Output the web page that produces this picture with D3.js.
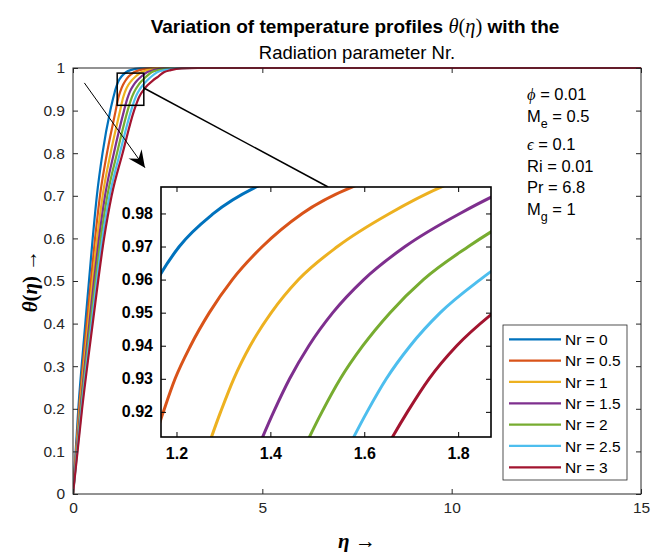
<!DOCTYPE html>
<html><head><meta charset="utf-8">
<script src="https://cdn.jsdelivr.net/npm/d3@7"></script>
<style>body{margin:0;background:#fff} svg{display:block}</style>
</head><body>
<svg id="c" width="651" height="552"></svg>
<script>
// ---------------- data ----------------
const nrLabels = ["Nr = 0","Nr = 0.5","Nr = 1","Nr = 1.5","Nr = 2","Nr = 2.5","Nr = 3"];
const colors = ["#0072BD","#D95319","#EDB120","#7E2F8E","#77AC30","#4DBEEE","#A2142F"];
// theta levels at which the eta position of each curve was read
const thetaLevels = [0, 0.2, 0.4, 0.6, 0.7, 0.8, 0.9, 0.92, 0.93, 0.94, 0.95, 0.96, 0.97, 0.98, 0.99, 0.995, 0.999, 1];
const etaNr0  = [0, 0.14, 0.325, 0.52, 0.63, 0.78, 0.985, 1.036, 1.063, 1.092, 1.122, 1.159, 1.206, 1.279, 1.40, 1.52, 1.78, 2.2];
const etaNr05 = [0, 0.16, 0.364, 0.583, 0.712, 0.897, 1.127, 1.172, 1.197, 1.230, 1.270, 1.319, 1.383, 1.468, 1.61, 1.76, 2.02, 2.45];
const etaNr1  = [0, 0.178, 0.399, 0.637, 0.782, 0.992, 1.244, 1.294, 1.322, 1.357, 1.402, 1.460, 1.543, 1.654, 1.799, 1.96, 2.22, 2.65];
const etaNr15 = [0, 0.195, 0.432, 0.687, 0.846, 1.079, 1.347, 1.407, 1.441, 1.482, 1.533, 1.599, 1.687, 1.804, 1.953, 2.13, 2.40, 2.85];
const etaNr2  = [0, 0.21, 0.462, 0.732, 0.907, 1.162, 1.442, 1.510, 1.549, 1.597, 1.655, 1.726, 1.822, 1.936, 2.074, 2.26, 2.55, 3.0];
const etaNr25 = [0, 0.225, 0.491, 0.777, 0.965, 1.238, 1.534, 1.606, 1.647, 1.698, 1.762, 1.847, 1.948, 2.070, 2.223, 2.41, 2.70, 3.15];
const etaNr3  = [0, 0.24, 0.52, 0.82, 1.02, 1.31, 1.612, 1.692, 1.738, 1.797, 1.875, 1.974, 2.099, 2.251, 2.40, 2.58, 2.87, 3.3];
const etaMax = 15;
const xTicks = [0, 5, 10, 15];
const yTicks = [0, 0.1, 0.2, 0.3, 0.4, 0.5, 0.6, 0.7, 0.8, 0.9, 1];
const insetXDomain = [1.167, 1.87];
const insetYDomain = [0.9124, 0.988];
const insetXTicks = [1.2, 1.4, 1.6, 1.8];
const insetYTicks = [0.92, 0.93, 0.94, 0.95, 0.96, 0.97, 0.98];
const paramLines = [
  {sym:"ϕ", text:" = 0.01"},
  {main:"M", sub:"e", text:" = 0.5"},
  {sym:"ϵ", text:" = 0.1"},
  {main:"Ri", text:" = 0.01"},
  {main:"Pr", text:" = 6.8"},
  {main:"M", sub:"g", text:" = 1"}
];

const etaSeries = [etaNr0, etaNr05, etaNr1, etaNr15, etaNr2, etaNr25, etaNr3];
const series = etaSeries.map((etas, i) => {
  const pts = etas.map((e, k) => ({x: e, y: thetaLevels[k]}));
  pts.push({x: etaMax, y: 1});
  return {label: nrLabels[i], color: colors[i], pts};
});

// ---------------- layout ----------------
const svg = d3.select("#c");
const SANS = "'Liberation Sans', Arial, Helvetica, sans-serif";
const SERIF = "'Liberation Serif', 'DejaVu Serif', serif";
const AX = "#262626";
const M = {l: 73, r: 641, t: 68, b: 494};
const x = d3.scaleLinear().domain([0, 15]).range([M.l, M.r]);
const y = d3.scaleLinear().domain([0, 1]).range([M.b, M.t]);
const I = {l: 161, r: 491, t: 187, b: 437};
const xi = d3.scaleLinear().domain(insetXDomain).range([I.l, I.r]);
const yi = d3.scaleLinear().domain(insetYDomain).range([I.b, I.t]);

svg.append("rect").attr("width", 651).attr("height", 552).attr("fill", "#fff");
const defs = svg.append("defs");

// main curves
const line = d3.line().x(d => x(d.x)).y(d => y(d.y)).curve(d3.curveMonotoneX);
defs.append("clipPath").attr("id", "mainclip")
  .append("rect").attr("x", M.l).attr("y", M.t - 2).attr("width", M.r - M.l).attr("height", M.b - M.t + 2);
const gMain = svg.append("g").attr("clip-path", "url(#mainclip)");
series.forEach(s => {
  gMain.append("path").attr("d", line(s.pts)).attr("fill", "none")
    .attr("stroke", s.color).attr("stroke-width", 2.2);
});

// main axes
function styleAxis(g, size, weight, color) {
  g.selectAll("path").remove();
  g.selectAll("line").attr("stroke", color);
  g.selectAll("text").attr("font-family", SANS).attr("font-size", size)
    .attr("font-weight", weight).attr("fill", color);
}
const gx = svg.append("g").attr("transform", `translate(0,${M.b})`)
  .call(d3.axisBottom(x).tickValues(xTicks).tickSize(-5).tickPadding(8).tickFormat(d3.format("d")));
styleAxis(gx, 15.5, "normal", AX);
const gxt = svg.append("g").attr("transform", `translate(0,${M.t})`)
  .call(d3.axisTop(x).tickValues(xTicks).tickSize(-5).tickFormat(""));
styleAxis(gxt, 15, "normal", AX);
const gy = svg.append("g").attr("transform", `translate(${M.l},0)`)
  .call(d3.axisLeft(y).tickValues(yTicks).tickSize(-5).tickPadding(8).tickFormat(d => d3.format("~g")(d)));
styleAxis(gy, 15.5, "normal", AX);
const gyr = svg.append("g").attr("transform", `translate(${M.r},0)`)
  .call(d3.axisRight(y).tickValues(yTicks).tickSize(-5).tickFormat(""));
styleAxis(gyr, 15, "normal", AX);
svg.append("rect").attr("x", M.l).attr("y", M.t).attr("width", M.r - M.l).attr("height", M.b - M.t)
  .attr("fill", "none").attr("stroke", AX).attr("stroke-width", 1);

// zoom rectangle on main plot
svg.append("rect")
  .attr("x", x(insetXDomain[0])).attr("y", y(insetYDomain[1]))
  .attr("width", x(insetXDomain[1]) - x(insetXDomain[0]))
  .attr("height", y(insetYDomain[0]) - y(insetYDomain[1]))
  .attr("fill", "none").attr("stroke", "#000").attr("stroke-width", 1.5);
// connector line
svg.append("line")
  .attr("x1", x(insetXDomain[1])).attr("y1", y(0.953))
  .attr("x2", xi(1.523)).attr("y2", I.t)
  .attr("stroke", "#000").attr("stroke-width", 1.5);

// arrow annotation
const a0 = [x(0.3), y(0.965)], a1 = [x(1.9), y(0.766)];
svg.append("line").attr("x1", a0[0]).attr("y1", a0[1]).attr("x2", a1[0]).attr("y2", a1[1])
  .attr("stroke", "#000").attr("stroke-width", 1);
{
  const dx = a1[0] - a0[0], dy = a1[1] - a0[1], L = Math.hypot(dx, dy);
  const ux = dx / L, uy = dy / L, px = -uy, py = ux;
  const hl = 17, hw = 8, notch = 11;
  const tip = a1;
  const b1 = [tip[0] - ux * hl + px * hw, tip[1] - uy * hl + py * hw];
  const b2 = [tip[0] - ux * hl - px * hw, tip[1] - uy * hl - py * hw];
  const n = [tip[0] - ux * notch, tip[1] - uy * notch];
  svg.append("path").attr("d", `M${tip}L${b1}L${n}L${b2}Z`).attr("fill", "#000");
}

// ---------------- inset ----------------
svg.append("rect").attr("x", I.l).attr("y", I.t).attr("width", I.r - I.l).attr("height", I.b - I.t)
  .attr("fill", "#fff");
defs.append("clipPath").attr("id", "insetclip")
  .append("rect").attr("x", I.l).attr("y", I.t).attr("width", I.r - I.l).attr("height", I.b - I.t);
const lineI = d3.line().x(d => xi(d.x)).y(d => yi(d.y)).curve(d3.curveMonotoneX);
const gIn = svg.append("g").attr("clip-path", "url(#insetclip)");
series.forEach(s => {
  gIn.append("path").attr("d", lineI(s.pts)).attr("fill", "none")
    .attr("stroke", s.color).attr("stroke-width", 3);
});
const gix = svg.append("g").attr("transform", `translate(0,${I.b})`)
  .call(d3.axisBottom(xi).tickValues(insetXTicks).tickSize(-5).tickPadding(11).tickFormat(d3.format(".1f")));
styleAxis(gix, 16, "bold", "#000");
const gixt = svg.append("g").attr("transform", `translate(0,${I.t})`)
  .call(d3.axisTop(xi).tickValues(insetXTicks).tickSize(-5).tickFormat(""));
styleAxis(gixt, 16, "bold", "#000");
const giy = svg.append("g").attr("transform", `translate(${I.l},0)`)
  .call(d3.axisLeft(yi).tickValues(insetYTicks).tickSize(-5).tickPadding(8).tickFormat(d3.format(".2f")));
styleAxis(giy, 16, "bold", "#000");
const giyr = svg.append("g").attr("transform", `translate(${I.r},0)`)
  .call(d3.axisRight(yi).tickValues(insetYTicks).tickSize(-5).tickFormat(""));
styleAxis(giyr, 16, "bold", "#000");
svg.append("rect").attr("x", I.l).attr("y", I.t).attr("width", I.r - I.l).attr("height", I.b - I.t)
  .attr("fill", "none").attr("stroke", "#000").attr("stroke-width", 1.6);

// ---------------- legend ----------------
const Lg = {x: 503, y: 325, w: 124, h: 155, row: 21.33, first: 14.3};
svg.append("rect").attr("x", Lg.x).attr("y", Lg.y).attr("width", Lg.w).attr("height", Lg.h)
  .attr("fill", "#fff").attr("stroke", AX).attr("stroke-width", 0.8);
series.forEach((s, i) => {
  const cy = Lg.y + Lg.first + i * Lg.row;
  svg.append("line").attr("x1", Lg.x + 6).attr("x2", Lg.x + 58).attr("y1", cy).attr("y2", cy)
    .attr("stroke", s.color).attr("stroke-width", 2.2);
  svg.append("text").attr("x", Lg.x + 62).attr("y", cy).attr("dy", "0.36em")
    .attr("font-family", SANS).attr("font-size", 15.5).attr("fill", "#000").text(s.label);
});

// ---------------- parameter text ----------------
const paramBaselines = [100, 121.7, 150, 171.7, 193.3, 215];
paramLines.forEach((p, i) => {
  const t = svg.append("text").attr("x", 527).attr("y", paramBaselines[i])
    .attr("font-family", SANS).attr("font-size", 16.5).attr("fill", "#000");
  if (p.sym) t.append("tspan").attr("font-family", SERIF).attr("font-style", "italic").text(p.sym);
  if (p.main) t.append("tspan").text(p.main);
  if (p.sub) {
    t.append("tspan").attr("font-size", 12.5).attr("dy", 6).text(p.sub);
    t.append("tspan").attr("dy", -6).text(p.text);
  } else t.append("tspan").text(p.text);
});

// ---------------- titles ----------------
const cx = (M.l + M.r) / 2;
const t1 = svg.append("text").attr("x", cx - 2).attr("y", 33).attr("text-anchor", "middle")
  .attr("font-family", SANS).attr("font-size", 19).attr("font-weight", "bold").attr("fill", "#000");
t1.append("tspan").text("Variation of temperature profiles ");
const mathT = [["θ", true], ["(", false], ["η", true], [")", false]];
mathT.forEach(([c, it]) => t1.append("tspan").attr("font-family", SERIF)
  .attr("font-style", it ? "italic" : "normal").attr("font-weight", "normal").attr("font-size", 20.5).text(c));
t1.append("tspan").text(" with the");
svg.append("text").attr("x", cx).attr("y", 59).attr("text-anchor", "middle")
  .attr("font-family", SANS).attr("font-size", 18.5).attr("fill", "#000").text("Radiation parameter Nr.");

// axis labels
const xl = svg.append("text").attr("x", cx).attr("y", 548).attr("text-anchor", "middle")
  .attr("font-family", SERIF).attr("font-size", 21).attr("font-weight", "bold").attr("fill", "#000");
xl.append("tspan").attr("font-style", "italic").text("η");
xl.append("tspan").text(" →");
const yl = svg.append("text").attr("transform", `translate(37,${(M.t + M.b) / 2}) rotate(-90)`)
  .attr("text-anchor", "middle")
  .attr("font-family", SERIF).attr("font-size", 21).attr("font-weight", "bold").attr("fill", "#000");
yl.append("tspan").attr("font-style", "italic").text("θ");
yl.append("tspan").text("(");
yl.append("tspan").attr("font-style", "italic").text("η");
yl.append("tspan").text(") →");
</script>
</body></html>
